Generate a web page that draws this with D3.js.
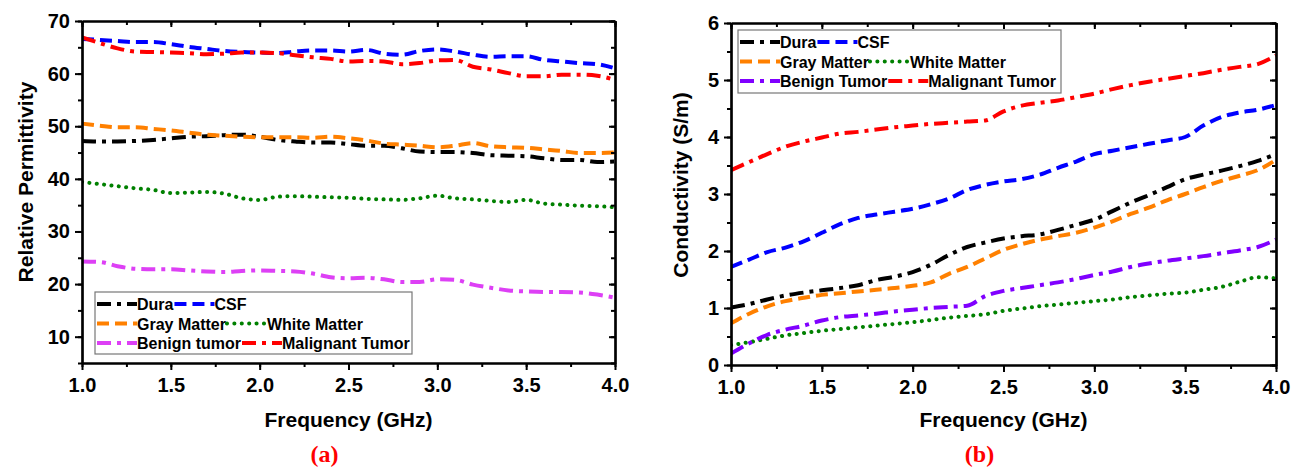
<!DOCTYPE html>
<html>
<head>
<meta charset="utf-8">
<script src="https://cdn.jsdelivr.net/npm/d3@7/dist/d3.min.js"></script>
<style>
  body { margin: 0; background: #fff; }
  text { font-family: "Liberation Sans", Arial, sans-serif; font-weight: bold; }
</style>
</head>
<body>
<script>
// frequency grid (GHz), 0.1 steps
var freq = d3.range(31).map(function(i) { return +(1 + i * 0.1).toFixed(1); });

// (a) relative permittivity
var permDura   = [47.2,47.1,47.1,47.2,47.4,47.7,48.0,48.1,48.3,48.4,48.0,47.4,47.1,46.9,46.9,46.6,46.3,46.3,45.8,45.2,45.1,45.1,44.9,44.5,44.4,44.3,43.9,43.6,43.6,43.2,43.3];
var permCSF    = [66.6,66.4,66.2,66.0,66.0,65.6,65.1,64.7,64.3,64.1,64.0,63.9,64.2,64.4,64.4,64.2,64.5,63.8,63.6,64.3,64.6,64.2,63.6,63.2,63.3,63.3,62.6,62.3,62.0,61.8,61.0];
var permGray   = [50.5,50.1,49.8,49.8,49.5,49.2,48.8,48.4,48.2,48.0,47.9,47.9,47.9,47.8,48.0,47.7,47.3,46.7,46.5,46.3,46.0,46.3,46.8,46.2,46.0,45.9,45.6,45.3,44.9,44.9,45.0];
var permWhite  = [39.4,39.0,38.6,38.2,37.9,37.3,37.4,37.5,37.2,36.3,36.0,36.6,36.7,36.6,36.5,36.4,36.2,36.1,36.0,36.3,36.8,36.3,36.1,35.8,35.6,36.0,35.3,35.1,34.9,34.8,34.6];
var permBenign = [24.3,24.2,23.4,22.9,22.8,22.8,22.6,22.4,22.3,22.5,22.6,22.5,22.4,22.0,21.3,21.1,21.2,20.9,20.4,20.4,20.9,20.8,19.9,19.3,18.8,18.6,18.5,18.5,18.4,18.0,17.4];
var permMalig  = [66.9,65.8,64.8,64.2,64.1,64.0,63.9,63.7,63.8,64.0,64.0,63.9,63.5,63.1,62.8,62.3,62.4,62.3,61.8,62.0,62.5,62.6,61.3,60.8,60.1,59.5,59.5,59.8,59.8,59.6,58.8];

// (b) conductivity (S/m)
var condDura   = [1.01,1.07,1.15,1.22,1.27,1.31,1.35,1.40,1.49,1.55,1.63,1.76,1.93,2.07,2.15,2.22,2.26,2.29,2.37,2.46,2.55,2.70,2.85,2.98,3.12,3.26,3.34,3.41,3.49,3.58,3.70];
var condCSF    = [1.72,1.85,1.98,2.06,2.17,2.32,2.47,2.58,2.64,2.69,2.74,2.82,2.92,3.07,3.16,3.22,3.26,3.34,3.46,3.57,3.70,3.76,3.82,3.88,3.94,4.00,4.20,4.35,4.43,4.48,4.56];
var condGray   = [0.73,0.90,1.03,1.12,1.18,1.23,1.26,1.29,1.32,1.35,1.39,1.45,1.60,1.72,1.87,2.02,2.12,2.20,2.26,2.32,2.41,2.52,2.65,2.76,2.89,3.00,3.12,3.23,3.32,3.42,3.60];
var condWhite  = [0.35,0.40,0.46,0.52,0.56,0.60,0.63,0.66,0.69,0.72,0.75,0.79,0.83,0.86,0.89,0.95,0.99,1.03,1.06,1.09,1.12,1.15,1.19,1.22,1.25,1.27,1.32,1.37,1.46,1.54,1.52];
var condBenign = [0.20,0.38,0.53,0.62,0.69,0.78,0.84,0.87,0.90,0.94,0.97,1.00,1.02,1.04,1.21,1.30,1.35,1.40,1.45,1.51,1.58,1.64,1.72,1.78,1.83,1.87,1.91,1.96,2.01,2.07,2.20];
var condMalig  = [3.42,3.56,3.70,3.83,3.92,3.99,4.06,4.09,4.13,4.17,4.20,4.23,4.25,4.27,4.29,4.45,4.55,4.60,4.64,4.70,4.76,4.84,4.91,4.97,5.02,5.07,5.12,5.18,5.23,5.28,5.43];

var xTicks = [1.0, 1.5, 2.0, 2.5, 3.0, 3.5, 4.0];
var permTicks = [10, 20, 30, 40, 50, 60, 70];
var condTicks = [0, 1, 2, 3, 4, 5, 6];

var DASHDOT = "14,6,4,6", DASH = "12,6", DOT = "0.1,7.3";

var svg = d3.select("body").append("svg").attr("width", 1305).attr("height", 468);

function panel(o) {
  var x = d3.scaleLinear().domain([1, 4]).range([o.left, o.right]);
  var y = d3.scaleLinear().domain(o.ydom).range([o.bottom, o.top]);
  var g = svg.append("g");
  var clipId = "clip" + o.id;
  g.append("clipPath").attr("id", clipId).append("rect")
    .attr("x", o.left).attr("y", o.top - 4).attr("width", o.right - o.left).attr("height", o.bottom - o.top + 4);

  var line = d3.line().x(function(d, i) { return x(freq[i]); }).y(function(d) { return y(d); })
    .curve(d3.curveMonotoneX);

  var lines = g.append("g").attr("clip-path", "url(#" + clipId + ")");
  lines.selectAll("path").data(o.series).enter().append("path")
    .attr("d", function(s) { return line(s.values); })
    .attr("fill", "none")
    .attr("stroke", function(s) { return s.color; })
    .attr("stroke-width", 4)
    .attr("stroke-dasharray", function(s) { return s.dash; })
    .attr("stroke-linecap", function(s) { return s.dash === DOT ? "round" : "butt"; });

  var minorX = d3.range(1, 4.01, 0.25);
  var minorY = d3.range(o.ydom[0], o.ydom[1] + 1e-9, o.minorStep);

  // bottom / left axes (ticks out)
  var xb = g.append("g").attr("transform", "translate(0," + o.bottom + ")")
    .call(d3.axisBottom(x).tickValues(xTicks).tickFormat(d3.format(".1f")).tickSize(7).tickSizeOuter(0));
  var yl = g.append("g").attr("transform", "translate(" + o.left + ",0)")
    .call(d3.axisLeft(y).tickValues(o.yticks).tickFormat(d3.format("d")).tickSize(7).tickSizeOuter(0));
  // top / right axes (ticks in)
  g.append("g").attr("transform", "translate(0," + o.top + ")")
    .call(d3.axisTop(x).tickValues(xTicks).tickFormat("").tickSize(-6).tickSizeOuter(0));
  g.append("g").attr("transform", "translate(" + o.right + ",0)")
    .call(d3.axisRight(y).tickValues(o.yticks).tickFormat("").tickSize(-6).tickSizeOuter(0));
  // minor ticks
  g.append("g").attr("transform", "translate(0," + o.bottom + ")")
    .call(d3.axisBottom(x).tickValues(minorX).tickFormat("").tickSize(4).tickSizeOuter(0));
  g.append("g").attr("transform", "translate(" + o.left + ",0)")
    .call(d3.axisLeft(y).tickValues(minorY).tickFormat("").tickSize(4).tickSizeOuter(0));
  g.append("g").attr("transform", "translate(0," + o.top + ")")
    .call(d3.axisTop(x).tickValues(minorX).tickFormat("").tickSize(-4).tickSizeOuter(0));
  g.append("g").attr("transform", "translate(" + o.right + ",0)")
    .call(d3.axisRight(y).tickValues(minorY).tickFormat("").tickSize(-4).tickSizeOuter(0));

  g.selectAll(".domain").attr("stroke", "#000").attr("stroke-width", 2.2);
  g.selectAll(".tick line").attr("stroke", "#000").attr("stroke-width", 2);
  xb.selectAll("text").attr("font-size", 20).attr("fill", "#000").attr("dy", "0.95em");
  yl.selectAll("text").attr("font-size", 20).attr("fill", "#000").attr("dx", "-0.1em");

  // titles
  g.append("text").attr("x", (o.left + o.right) / 2).attr("y", 427)
    .attr("text-anchor", "middle").attr("font-size", 21).text("Frequency (GHz)");
  g.append("text").attr("transform", "translate(" + o.ytx + "," + o.yty + ") rotate(-90)")
    .attr("text-anchor", "middle").attr("font-size", 21).text(o.ytitle);
  g.append("text").attr("x", (o.left + o.right) / 2 - 24).attr("y", 462)
    .attr("text-anchor", "middle").attr("font-size", 24).attr("fill", "#ff0000")
    .style("font-family", "'Liberation Serif', 'Times New Roman', serif").text(o.label);

  // legend
  var lg = g.append("g");
  lg.append("rect").attr("x", o.lx).attr("y", o.ly).attr("width", o.lw).attr("height", o.lh)
    .attr("fill", "#fff").attr("stroke", "#777").attr("stroke-width", 1.2);
  var rows = [[0, 1], [2, 3], [4, 5]];
  rows.forEach(function(r, ri) {
    var cy = o.ly + 12 + ri * 19.5;
    var cx = o.lx + 2;
    r.forEach(function(si) {
      var s = o.series[si];
      lg.append("line").attr("x1", cx).attr("x2", cx + 40).attr("y1", cy).attr("y2", cy)
        .attr("stroke", s.color).attr("stroke-width", 4).attr("stroke-dasharray", s.dash)
        .attr("stroke-linecap", s.dash === DOT ? "round" : "butt");
      var t = lg.append("text").attr("x", cx + 40).attr("y", cy + 6).attr("font-size", 16).text(s.name);
      cx = cx + 40 + t.node().getComputedTextLength() + 1;
    });
  });
}

panel({
  id: "a", left: 82, right: 615, top: 21, bottom: 363, ydom: [5, 70], yticks: permTicks, minorStep: 5,
  ytitle: "Relative Permittivity", ytx: 33, yty: 182, label: "(a)",
  lx: 95, ly: 292, lw: 317, lh: 62,
  series: [
    { name: "Dura", values: permDura, color: "#000000", dash: DASHDOT },
    { name: "CSF", values: permCSF, color: "#0000ff", dash: DASH },
    { name: "Gray Matter", values: permGray, color: "#ff8000", dash: DASH },
    { name: "White Matter", values: permWhite, color: "#008000", dash: DOT },
    { name: "Benign tumor", values: permBenign, color: "#dd40f5", dash: DASHDOT },
    { name: "Malignant Tumor", values: permMalig, color: "#ff0000", dash: DASHDOT }
  ]
});

panel({
  id: "b", left: 731, right: 1276, top: 23, bottom: 365, ydom: [0, 6], yticks: condTicks, minorStep: 0.5,
  ytitle: "Conductivity (S/m)", ytx: 688, yty: 185, label: "(b)",
  lx: 738, ly: 30, lw: 323, lh: 63,
  series: [
    { name: "Dura", values: condDura, color: "#000000", dash: DASHDOT },
    { name: "CSF", values: condCSF, color: "#0000ff", dash: DASH },
    { name: "Gray Matter", values: condGray, color: "#ff8000", dash: DASH },
    { name: "White Matter", values: condWhite, color: "#008000", dash: DOT },
    { name: "Benign Tumor", values: condBenign, color: "#8000ff", dash: DASHDOT },
    { name: "Malignant Tumor", values: condMalig, color: "#ff0000", dash: DASHDOT }
  ]
});
</script>
</body>
</html>
